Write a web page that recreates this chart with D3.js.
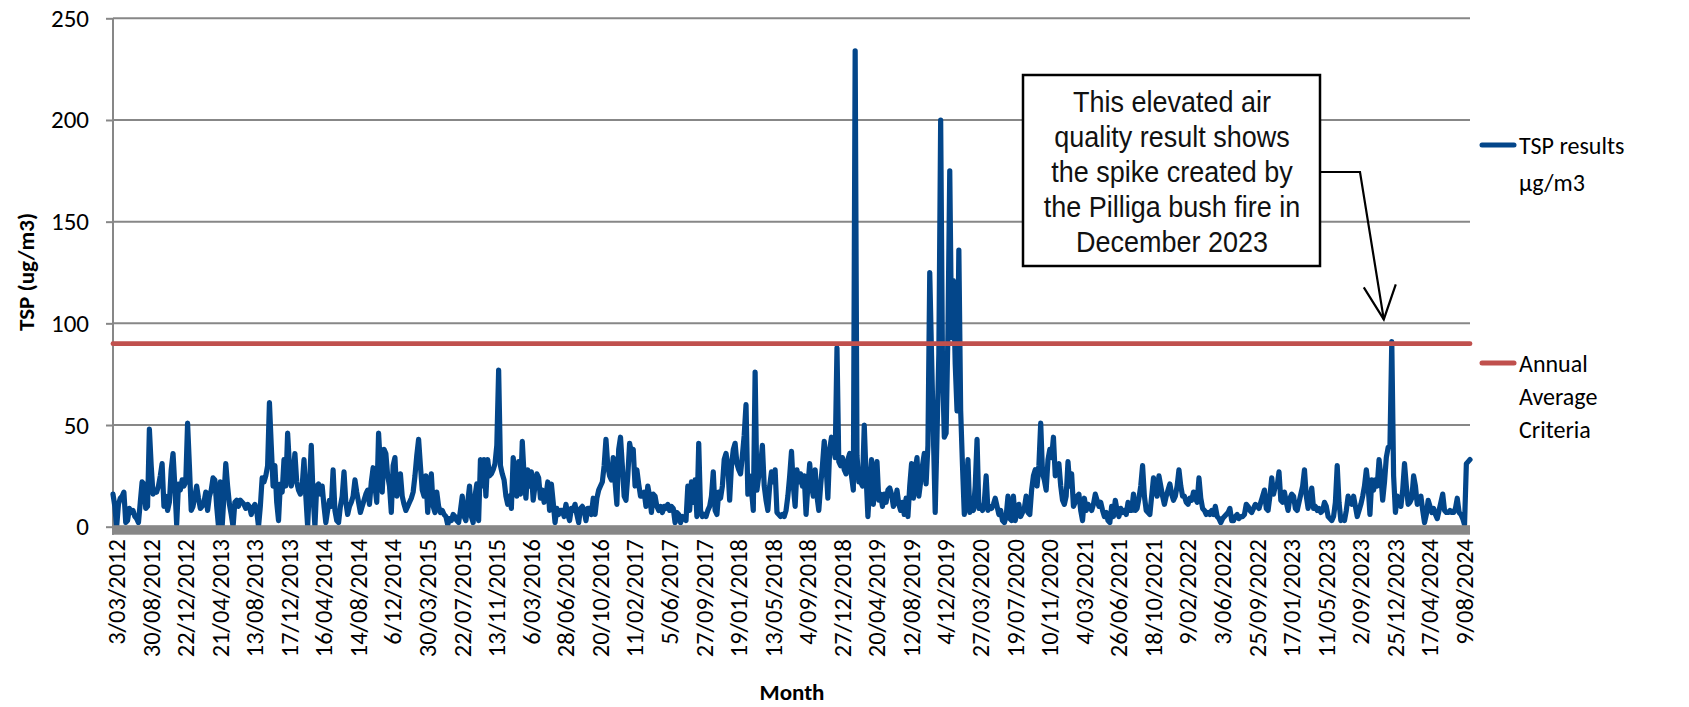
<!DOCTYPE html>
<html><head><meta charset="utf-8">
<script src="https://cdn.jsdelivr.net/npm/d3@7"></script>
<style>body{margin:0;background:#fff;} svg{display:block;}</style>
</head><body>
<svg id="chart" width="1689" height="707"></svg>
<script>
const tickLabels = ["3/03/2012","30/08/2012","22/12/2012","21/04/2013","13/08/2013","17/12/2013","16/04/2014","14/08/2014","6/12/2014","30/03/2015","22/07/2015","13/11/2015","6/03/2016","28/06/2016","20/10/2016","11/02/2017","5/06/2017","27/09/2017","19/01/2018","13/05/2018","4/09/2018","27/12/2018","20/04/2019","12/08/2019","4/12/2019","27/03/2020","19/07/2020","10/11/2020","4/03/2021","26/06/2021","18/10/2021","9/02/2022","3/06/2022","25/09/2022","17/01/2023","11/05/2023","2/09/2023","25/12/2023","17/04/2024","9/08/2024"];
const tickEvery = 19;
const tspValues = [
16,10,0,11,14,15,17,2,3,9,
7,8,5,4,2,12,22,21,9,10,
48,30,16,18,17,20,25,31,10,15,
8,12,28,36,20,1,21,18,23,20,
22,51,30,8,10,15,20,14,9,10,
12,17,8,15,18,24,23,10,0,22,
0,15,31,20,11,6,0,12,13,10,
13,12,11,9,11,10,6,9,11,8,
0,10,24,22,25,30,61,40,20,30,
12,3,21,17,33,20,46,30,20,25,
36,22,18,16,20,33,15,0,20,40,
15,0,20,21,16,20,10,2,8,13,
10,28,8,3,2,10,15,27,12,6,
10,12,15,23,17,12,7,10,13,16,
18,11,22,29,20,12,46,30,17,38,
36,25,20,7,30,34,15,20,26,15,
11,8,10,12,14,17,25,35,43,30,
18,15,25,7,20,26,10,7,17,10,
7,8,6,5,1,4,3,6,5,3,
2,8,15,5,3,12,20,5,2,15,
21,3,33,20,33,15,33,25,26,28,
31,40,77,30,26,23,15,11,15,9,
34,25,15,32,16,42,25,14,28,20,
27,13,20,26,24,14,18,12,15,22,
8,21,12,2,9,6,8,8,5,11,
6,3,9,8,11,6,2,9,10,8,
3,9,9,6,14,6,14,18,20,22,
30,43,30,25,23,34,22,11,38,44,
30,15,13,25,41,36,38,20,28,21,
15,15,17,10,20,15,7,16,15,10,
8,10,7,10,9,11,8,10,9,2,
7,6,2,5,4,3,20,8,22,12,
23,5,41,8,5,6,5,8,10,15,
27,8,6,17,14,20,33,36,30,13,
30,38,41,31,28,26,35,45,60,16,
25,18,8,76,18,25,30,40,20,13,
8,20,27,22,28,7,6,5,6,5,
8,15,25,37,20,10,28,22,26,20,
25,6,20,31,20,15,28,15,8,20,
30,42,30,14,38,44,40,34,88,32,
30,34,28,26,33,36,25,18,234,35,
22,22,20,50,25,5,20,33,11,25,
32,13,16,10,16,12,18,19,16,10,
12,18,11,8,12,6,14,5,20,31,
14,28,34,15,22,30,36,21,40,125,
84,45,7,45,85,200,80,44,46,95,
175,93,121,80,57,136,57,30,6,15,
33,7,10,8,20,43,9,10,8,12,
25,8,10,9,11,14,10,6,8,3,
2,5,15,4,3,15,3,8,11,5,
7,9,15,7,6,18,25,28,20,30,
51,26,23,18,33,38,34,44,25,30,
31,20,13,11,15,32,20,26,10,12,
15,16,8,3,14,8,11,10,8,11,
16,13,10,12,8,5,7,3,2,10,
5,13,8,5,9,7,8,6,12,8,
8,16,8,9,14,20,30,15,8,7,
6,15,24,20,15,25,20,15,11,15,
18,21,16,13,15,20,28,20,15,15,
12,11,14,13,17,14,12,24,14,9,
8,6,7,6,8,6,10,5,4,2,
4,5,6,7,9,3,3,5,6,4,
5,5,6,11,10,8,7,9,11,10,
9,12,15,18,9,8,15,24,16,20,
20,27,13,12,17,12,8,14,16,15,
9,8,12,16,20,28,15,9,14,19,
9,10,8,9,7,8,12,10,5,4,
3,5,12,30,12,3,4,3,8,15,
12,11,15,10,5,8,11,15,20,28,
20,6,23,18,23,20,33,25,13,22,
34,39,40,91,25,7,15,12,10,18,
31,20,11,12,14,25,20,11,13,15,
8,2,6,13,10,7,9,6,4,8,
12,16,8,7,7,8,7,7,9,14,
7,6,4,1,31,32,33
];
const criteriaValue = 90;
const yTicks = [0,50,100,150,200,250];
const seriesNames = ["TSP results", "μg/m3"];
const criteriaNames = ["Annual", "Average", "Criteria"];
const noteLines = ["This elevated air","quality result shows","the spike created by","the Pilliga bush fire in","December 2023"];
const noteIndex = 703;

const svg = d3.select('#chart');
const uiFont = "Carlito, Lato, sans-serif";
const plot = {left:113, right:1470, top:18.3, bottom:526.7};
const x = d3.scaleLinear().domain([0, tspValues.length-1]).range([plot.left, plot.right]);
const y = d3.scaleLinear().domain([0, 250]).range([plot.bottom, plot.top]);

// gridlines
svg.append('g').selectAll('line').data(yTicks.filter(d => d > 0)).join('line')
  .attr('x1', plot.left).attr('x2', plot.right)
  .attr('y1', d => y(d)).attr('y2', d => y(d))
  .attr('stroke', '#878787').attr('stroke-width', 2);

// y axis
const yAxis = svg.append('g').attr('transform', `translate(${plot.left},0)`)
  .call(d3.axisLeft(y).tickValues(yTicks).tickSize(7).tickPadding(17));
yAxis.select('.domain').remove();
yAxis.selectAll('.tick line').attr('stroke', '#878787').attr('stroke-width', 2);
yAxis.selectAll('.tick text').attr('font-family', uiFont).attr('font-size', 25).attr('fill', '#000');
svg.append('line').attr('x1', plot.left).attr('x2', plot.left).attr('y1', plot.top).attr('y2', plot.bottom + 8)
  .attr('stroke', '#878787').attr('stroke-width', 2);

// data line
const line = d3.line().x((d, i) => x(i)).y(d => y(d));
svg.append('path').datum(tspValues).attr('d', line)
  .attr('fill', 'none').attr('stroke', '#03468a').attr('stroke-width', 5.2)
  .attr('stroke-linejoin', 'round').attr('stroke-linecap', 'round');

// criteria line
svg.append('line').attr('x1', x(0)).attr('x2', x(tspValues.length-1))
  .attr('y1', y(criteriaValue)).attr('y2', y(criteriaValue))
  .attr('stroke', '#c0504d').attr('stroke-width', 4.8).attr('stroke-linecap', 'round');

// x axis bar
svg.append('rect').attr('x', plot.left - 1).attr('y', y(0) - 1.5)
  .attr('width', plot.right - plot.left + 1).attr('height', 9.5).attr('fill', '#878787');

// x tick labels
const tickIdx = tickLabels.map((d, k) => k * tickEvery);
svg.append('g').selectAll('text').data(tickLabels).join('text')
  .attr('transform', (d, k) => `translate(${x(tickIdx[k]) + 4},539) rotate(-90)`)
  .attr('text-anchor', 'end').attr('dominant-baseline', 'central')
  .attr('font-family', uiFont).attr('font-size', 24.5).attr('fill', '#000')
  .text(d => d);

// axis titles
svg.append('text').attr('x', 792).attr('y', 692).attr('text-anchor', 'middle').attr('dominant-baseline', 'central')
  .attr('font-family', uiFont).attr('font-weight', 'bold').attr('font-size', 23).text('Month');
svg.append('text').attr('transform', 'translate(26,272) rotate(-90)').attr('text-anchor', 'middle')
  .attr('dominant-baseline', 'central')
  .attr('font-family', uiFont).attr('font-weight', 'bold').attr('font-size', 23).text('TSP (ug/m3)');

// legend
const lg = svg.append('g');
lg.append('line').attr('x1', 1482).attr('x2', 1514).attr('y1', 145).attr('y2', 145)
  .attr('stroke', '#03468a').attr('stroke-width', 5).attr('stroke-linecap', 'round');
lg.append('g').selectAll('text').data(seriesNames).join('text')
  .attr('x', 1519).attr('y', (d, i) => 145 + i * 37).attr('dominant-baseline', 'central')
  .attr('font-family', uiFont).attr('font-size', 24).text(d => d);
lg.append('line').attr('x1', 1482).attr('x2', 1514).attr('y1', 363).attr('y2', 363)
  .attr('stroke', '#c0504d').attr('stroke-width', 5).attr('stroke-linecap', 'round');
lg.append('g').selectAll('text').data(criteriaNames).join('text')
  .attr('x', 1519).attr('y', (d, i) => 363 + i * 33).attr('dominant-baseline', 'central')
  .attr('font-family', uiFont).attr('font-size', 24).text(d => d);

// annotation
const ann = svg.append('g');
ann.append('rect').attr('x', 1023).attr('y', 75).attr('width', 297).attr('height', 191)
  .attr('fill', '#fff').attr('stroke', '#000').attr('stroke-width', 2.5);
ann.append('g').selectAll('text').data(noteLines).join('text')
  .attr('transform', (d, i) => `translate(1172,${101 + i * 35}) scale(0.9,1)`)
  .attr('text-anchor', 'middle').attr('dominant-baseline', 'central')
  .attr('font-family', '"Liberation Sans Narrow", "Arial Narrow", "Liberation Sans", sans-serif')
  .attr('font-size', 30).attr('fill', '#111').text(d => d);
const tipX = x(noteIndex) - 8, tipY = y(100) - 4;
ann.append('path').attr('d', `M1320,172 L1360,172 L${tipX},${tipY}`)
  .attr('fill', 'none').attr('stroke', '#000').attr('stroke-width', 2.2);
ann.append('path').attr('d', `M${tipX - 20},${tipY - 32} L${tipX},${tipY} L${tipX + 12},${tipY - 35}`)
  .attr('fill', 'none').attr('stroke', '#000').attr('stroke-width', 2.2);
</script>
</body></html>
